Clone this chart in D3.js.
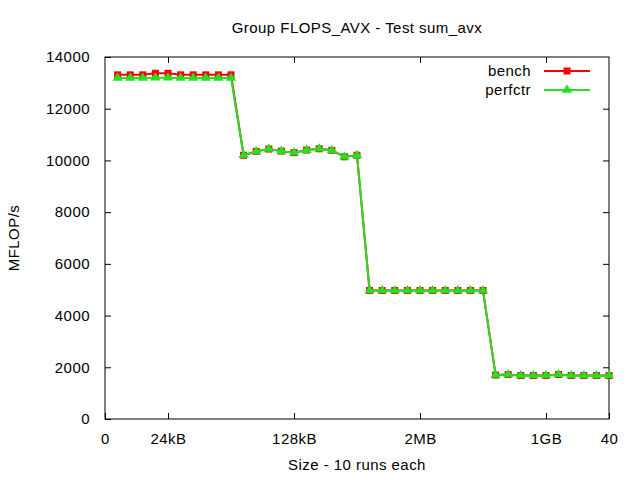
<!DOCTYPE html>
<html>
<head>
<meta charset="utf-8">
<script src="https://cdn.jsdelivr.net/npm/d3@7"></script>
<style>
  body { margin: 0; background: #fff; }
  text { font-family: "Liberation Sans", Arial, sans-serif; font-size: 15px; fill: #000; letter-spacing: 0.45px; }
</style>
</head>
<body>
<svg></svg>
<script>
const width = 640
const height = 480
const margin = {top: 57, right: 31, bottom: 61, left: 105}

// measurement index, 10 runs per size
const runs = d3.range(1, 41)

const bench = [
  13310, 13310, 13310, 13370, 13370, 13310, 13310, 13310, 13310, 13310,
  10200, 10350, 10440, 10360, 10300, 10400, 10450, 10390, 10140, 10200,
  4970, 4970, 4970, 4970, 4970, 4970, 4970, 4970, 4970, 4970,
  1700, 1720, 1680, 1680, 1680, 1720, 1680, 1680, 1680, 1680
]
const perfctr = [
  13190, 13190, 13190, 13200, 13200, 13190, 13190, 13190, 13190, 13190,
  10200, 10350, 10440, 10360, 10300, 10400, 10450, 10390, 10140, 10200,
  4970, 4970, 4970, 4970, 4970, 4970, 4970, 4970, 4970, 4970,
  1700, 1720, 1680, 1680, 1680, 1720, 1680, 1680, 1680, 1680
]

const xTicks = [0, 5, 15, 25, 35, 40]
const xTickLabels = ["0", "24kB", "128kB", "2MB", "1GB", "40"]
const yTicks = [0, 2000, 4000, 6000, 8000, 10000, 12000, 14000]

const svg = d3.select('svg')
  .attr('width', width)
  .attr('height', height)

const x = d3.scaleLinear().domain([0, 40]).range([margin.left, width - margin.right])
const y = d3.scaleLinear().domain([0, 14000]).range([height - margin.bottom, margin.top])

const tick = 6

// axes (gnuplot style: inner ticks, mirrored)
svg.append("g")
  .attr("transform", `translate(0,${height - margin.bottom})`)
  .call(d3.axisBottom(x).tickValues(xTicks).tickFormat((d, i) => xTickLabels[i]).tickSizeInner(-tick).tickSizeOuter(0).tickPadding(14))
  .call(g => g.select(".domain").remove())

svg.append("g")
  .attr("transform", `translate(0,${margin.top})`)
  .call(d3.axisTop(x).tickValues(xTicks.slice(1, -1)).tickFormat("").tickSizeInner(-tick).tickSizeOuter(0))
  .call(g => g.select(".domain").remove())

svg.append("g")
  .attr("transform", `translate(${margin.left},0)`)
  .call(d3.axisLeft(y).tickValues(yTicks).tickFormat(d3.format("d")).tickSizeInner(-tick).tickSizeOuter(0).tickPadding(15))
  .call(g => g.select(".domain").remove())

svg.append("g")
  .attr("transform", `translate(${width - margin.right},0)`)
  .call(d3.axisRight(y).tickValues(yTicks.slice(1, -1)).tickFormat("").tickSizeInner(-tick).tickSizeOuter(0))
  .call(g => g.select(".domain").remove())

svg.selectAll(".tick text").style("font-size", "15px").style("font-family", "Liberation Sans, Arial, sans-serif")
svg.selectAll(".tick line").attr("stroke", "#000")

svg.append("rect")
  .attr("x", margin.left).attr("y", margin.top)
  .attr("width", width - margin.left - margin.right)
  .attr("height", height - margin.top - margin.bottom)
  .attr("fill", "none").attr("stroke", "#000").attr("stroke-width", 1)

// labels
svg.append("text").attr("x", (margin.left + width - margin.right) / 2).attr("y", 33)
  .attr("text-anchor", "middle").text("Group FLOPS_AVX - Test sum_avx")
svg.append("text").attr("x", (margin.left + width - margin.right) / 2).attr("y", 470)
  .attr("text-anchor", "middle").text("Size - 10 runs each")
svg.append("text").attr("transform", `translate(19,${(margin.top + height - margin.bottom) / 2}) rotate(-90)`)
  .attr("text-anchor", "middle").text("MFLOP/s")

const red = "#ff0000"
const green = "#22e022"

const line = d3.line().x((d, i) => x(runs[i])).y(d => y(d))

const tri = "M0,-5.5L5.2,2.8L-5.2,2.8Z"

function drawSeries(values, colour, marker) {
  svg.append("path").datum(values)
    .attr("d", line).attr("fill", "none").attr("stroke", colour).attr("stroke-width", 2)
  const g = svg.append("g")
  if (marker == "square") {
    g.selectAll("rect").data(values).enter().append("rect")
      .attr("x", (d, i) => x(runs[i]) - 3.5).attr("y", d => y(d) - 3.5)
      .attr("width", 7).attr("height", 7).attr("fill", colour)
  } else {
    g.selectAll("path").data(values).enter().append("path")
      .attr("transform", (d, i) => `translate(${x(runs[i])},${y(d)})`)
      .attr("d", tri).attr("fill", colour)
  }
}

drawSeries(bench, red, "square")
drawSeries(perfctr, green, "triangle")

// legend
const legend = [
  {name: "bench", colour: red, marker: "square", y: 71},
  {name: "perfctr", colour: green, marker: "triangle", y: 90}
]
legend.forEach(l => {
  svg.append("text").attr("x", 531).attr("y", l.y).attr("dy", "0.35em")
    .attr("text-anchor", "end").text(l.name)
  svg.append("line").attr("x1", 544).attr("x2", 590).attr("y1", l.y).attr("y2", l.y)
    .attr("stroke", l.colour).attr("stroke-width", 2)
  if (l.marker == "square") {
    svg.append("rect").attr("x", 563.5).attr("y", l.y - 3.5).attr("width", 7).attr("height", 7).attr("fill", l.colour)
  } else {
    svg.append("path").attr("transform", `translate(567,${l.y})`).attr("d", tri).attr("fill", l.colour)
  }
})
</script>
</body>
</html>
